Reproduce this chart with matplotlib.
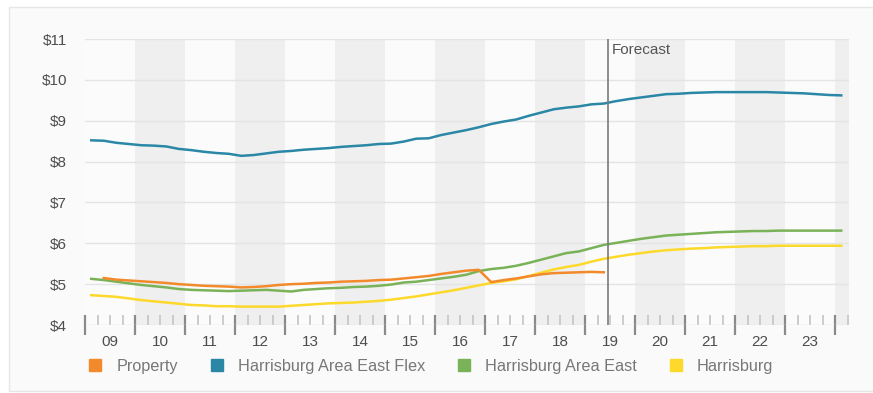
import matplotlib
matplotlib.use("Agg")
import matplotlib.pyplot as plt
import numpy as np
from matplotlib.lines import Line2D
from matplotlib.patches import Rectangle
from matplotlib.ticker import MultipleLocator, FixedLocator

plt.rcParams['font.family'] = ['Liberation Sans', 'DejaVu Sans']

# quarterly points, 2009 Q1 .. 2024 Q1 (placed mid-quarter)
quarters = 2009.125 + 0.25 * np.arange(61)

flex = [8.52, 8.51, 8.46, 8.43, 8.40, 8.39, 8.37, 8.31, 8.28, 8.24,
        8.21, 8.19, 8.14, 8.16, 8.20, 8.24, 8.26, 8.29, 8.31, 8.33,
        8.36, 8.38, 8.40, 8.43, 8.44, 8.49, 8.56, 8.57, 8.65, 8.71,
        8.77, 8.84, 8.92, 8.98, 9.03, 9.12, 9.20, 9.28, 9.32, 9.35,
        9.40, 9.42, 9.48, 9.53, 9.57, 9.61, 9.65, 9.66, 9.68, 9.69,
        9.70, 9.70, 9.70, 9.70, 9.70, 9.69, 9.68, 9.67, 9.65, 9.63, 9.62]

area_east = [5.13, 5.10, 5.06, 5.02, 4.98, 4.95, 4.92, 4.88, 4.86, 4.85,
             4.84, 4.83, 4.84, 4.85, 4.86, 4.84, 4.82, 4.86, 4.88, 4.90,
             4.91, 4.93, 4.94, 4.96, 4.99, 5.04, 5.06, 5.10, 5.14, 5.18,
             5.23, 5.32, 5.37, 5.40, 5.45, 5.52, 5.60, 5.68, 5.76, 5.80,
             5.88, 5.96, 6.01, 6.06, 6.11, 6.15, 6.19, 6.21, 6.23, 6.25,
             6.27, 6.28, 6.29, 6.30, 6.30, 6.31, 6.31, 6.31, 6.31, 6.31, 6.31]

harrisburg = [4.73, 4.71, 4.69, 4.65, 4.61, 4.58, 4.55, 4.52, 4.49, 4.48,
              4.46, 4.46, 4.45, 4.45, 4.45, 4.45, 4.47, 4.49, 4.51, 4.53,
              4.54, 4.55, 4.57, 4.59, 4.62, 4.66, 4.70, 4.75, 4.80, 4.85,
              4.91, 4.97, 5.03, 5.07, 5.12, 5.20, 5.28, 5.36, 5.42, 5.47,
              5.55, 5.62, 5.67, 5.72, 5.76, 5.80, 5.83, 5.85, 5.87, 5.88,
              5.90, 5.91, 5.92, 5.93, 5.93, 5.94, 5.94, 5.94, 5.94, 5.94, 5.94]

# property series covers quarters 1..41
prop = [5.15, 5.11, 5.09, 5.07, 5.05, 5.03, 5.00, 4.98, 4.96, 4.95,
        4.94, 4.92, 4.93, 4.95, 4.98, 5.00, 5.01, 5.03, 5.04, 5.06,
        5.07, 5.08, 5.10, 5.11, 5.14, 5.17, 5.20, 5.25, 5.29, 5.33,
        5.35, 5.05, 5.10, 5.14, 5.19, 5.24, 5.27, 5.28, 5.29, 5.30, 5.29]
prop_x = quarters[1:1 + len(prop)]

series_names = ['Property', 'Harrisburg Area East Flex', 'Harrisburg Area East', 'Harrisburg']
colors = ['#f28a2c', '#2a87a6', '#7ab258', '#fcd92a']

year_labels = ['09', '10', '11', '12', '13', '14', '15', '16', '17', '18',
               '19', '20', '21', '22', '23']
years = np.arange(2009, 2024)
forecast_at = 2019.46

fig = plt.figure(figsize=(8.73, 3.93), dpi=100)
fig.patch.set_facecolor('white')
# card background
fig.patches.append(Rectangle((9 / 873, 1 - 391 / 393), 1.1, (391 - 7) / 393,
                             transform=fig.transFigure, facecolor='#fafafa',
                             edgecolor='#e6e6e6', linewidth=1, zorder=-10))

ax = fig.add_axes([85 / 873, 1 - 325 / 393, (849 - 85) / 873, (325 - 39) / 393])
ax.set_zorder(1)
ax.set_facecolor('#fbfbfb')
ax.set_xlim(2009, 2024.28)
ax.set_ylim(4, 11)

for y0 in range(2010, 2025, 2):
    ax.axvspan(y0, y0 + 1, color='#efefef', lw=0, zorder=0)

ax.set_yticks(np.arange(4, 12))
ax.set_yticklabels(['$%d' % v for v in range(4, 12)])
ax.grid(axis='y', color='#e4e4e4', lw=1, zorder=1)
ax.tick_params(axis='y', length=0, labelsize=11, labelcolor='#4d4d4d', pad=13)

ax.xaxis.set_major_locator(FixedLocator(np.arange(2009, 2025)))
ax.xaxis.set_minor_locator(MultipleLocator(0.25))
ax.tick_params(axis='x', which='major', direction='inout', length=15, width=1.6,
               color='#8a8a8a', labelbottom=False)
ax.tick_params(axis='x', which='minor', direction='in', length=7, width=1.2,
               color='#c4c4c4')
for y, lab in zip(years, year_labels):
    ax.text(y + 0.5, -0.035, lab, transform=ax.get_xaxis_transform(),
            ha='center', va='top', fontsize=11, color='#4d4d4d')

for s in ax.spines.values():
    s.set_visible(False)

ax.plot(quarters, flex, color=colors[1], lw=1.8, zorder=3)
ax.plot(quarters, area_east, color=colors[2], lw=1.8, zorder=3)
ax.plot(quarters, harrisburg, color=colors[3], lw=1.8, zorder=3)
ax.plot(prop_x, prop, color=colors[0], lw=1.8, zorder=4)

ax.axvline(forecast_at, color='#7a7a7a', lw=1.2, zorder=5)
ax.text(forecast_at + 0.07, 10.72, 'Forecast', ha='left', va='center',
        fontsize=11, color='#555555')

handles = [Line2D([], [], marker='s', ls='', markersize=9, color=c,
                  markeredgecolor=c) for c in colors]
fig.legend(handles, series_names, loc='center left', bbox_to_anchor=(74 / 873, 1 - 366 / 393),
           ncol=4, frameon=False, fontsize=11.7, labelcolor='#777777',
           handlelength=0.8, handletextpad=0.9, columnspacing=2.0)

fig.savefig('out.png', dpi=100)
